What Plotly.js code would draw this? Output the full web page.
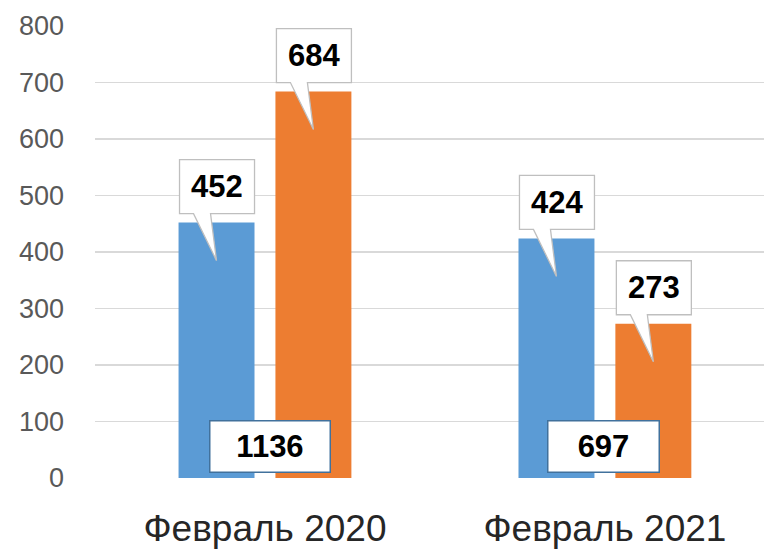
<!DOCTYPE html>
<html>
<head>
<meta charset="utf-8">
<script src="https://cdn.plot.ly/plotly-3.0.1.min.js"></script>
<style>html,body{margin:0;padding:0;background:#fff;overflow:hidden}</style>
</head>
<body>
<div id="chart" style="width:764px;height:552px"></div>
<script>
var categories = ['Февраль 2020', 'Февраль 2021'];
var seriesA = [452, 424];
var seriesB = [684, 273];
var yTicks = [0, 100, 200, 300, 400, 500, 600, 700, 800];

var totals = categories.map(function (c, i) { return seriesA[i] + seriesB[i]; });

var W = 764, H = 552;
var margin = {l: 95, r: 0, t: 26, b: 74};
var xRange = [-0.5, 1.468];
var bargap = 0.43, bargroupgap = 0.216;
var pxPerCat = (W - margin.l - margin.r) / (xRange[1] - xRange[0]);
var slot = pxPerCat * (1 - bargap) / 2;
var offsets = [-slot / 2, slot / 2];
var totalBoxWidth = [119, 110];
var totalBoxShift = [5.5, -1.5];

var colors = ['#5b9bd5', '#ed7d31'];
var series = [seriesA, seriesB];

var traces = series.map(function (vals, k) {
  return {
    type: 'bar', x: categories, y: vals,
    marker: {color: colors[k]},
    hoverinfo: 'skip', showlegend: false
  };
});

// callout outline in pixels relative to bar top centre
function calloutPath(dx) {
  var pts = [[-37, 9], [-37, 63], [38, 63], [38, 9], [-6, 9], [0, -38], [-23, 9]];
  return pts.map(function (p, j) { return (j ? 'L' : 'M') + (p[0] + dx) + ',' + p[1]; }).join(' ') + ' Z';
}

var shapes = [];
var annotations = [];
series.forEach(function (vals, k) {
  vals.forEach(function (v, i) {
    shapes.push({
      type: 'path', xref: 'x', yref: 'y', layer: 'above',
      xsizemode: 'pixel', ysizemode: 'pixel',
      xanchor: categories[i], yanchor: v,
      path: calloutPath(offsets[k]),
      fillcolor: '#ffffff', line: {color: '#bfbfbf', width: 1.3}
    });
    annotations.push({
      x: categories[i], y: v, xref: 'x', yref: 'y',
      xshift: offsets[k] + 0.5, yshift: 36,
      text: '<b>' + v + '</b>', showarrow: false,
      font: {family: 'Liberation Sans, Arial, sans-serif', size: 31, color: '#000000'}
    });
  });
});

categories.forEach(function (c, i) {
  annotations.push({
    x: c, y: 0, xref: 'x', yref: 'y', yanchor: 'bottom', yshift: 5,
    xshift: totalBoxShift[i],
    text: '<b>' + totals[i] + '</b>', showarrow: false,
    width: totalBoxWidth[i], height: 50, borderpad: 0,
    bgcolor: '#ffffff', bordercolor: '#41719c', borderwidth: 1.5,
    font: {family: 'Liberation Sans, Arial, sans-serif', size: 31, color: '#000000'}
  });
});

var layout = {
  width: W, height: H,
  margin: margin,
  paper_bgcolor: '#ffffff', plot_bgcolor: '#ffffff',
  barmode: 'group', bargap: bargap, bargroupgap: bargroupgap,
  xaxis: {
    type: 'category', range: xRange, showgrid: false, zeroline: false, showline: false,
    ticks: '', ticklabelstandoff: 25,
    tickfont: {family: 'Liberation Sans, Arial, sans-serif', size: 37, color: '#262626'}
  },
  yaxis: {
    range: [0, 800], tickvals: yTicks, ticktext: yTicks.map(String),
    showgrid: true, gridcolor: '#d9d9d9', gridwidth: 1.5,
    zeroline: false, showline: false, ticks: '', ticklabelstandoff: 30,
    tickfont: {family: 'Liberation Sans, Arial, sans-serif', size: 27, color: '#595959'}
  },
  shapes: shapes,
  annotations: annotations
};

Plotly.newPlot('chart', traces, layout, {displayModeBar: false, staticPlot: true});
</script>
</body>
</html>
